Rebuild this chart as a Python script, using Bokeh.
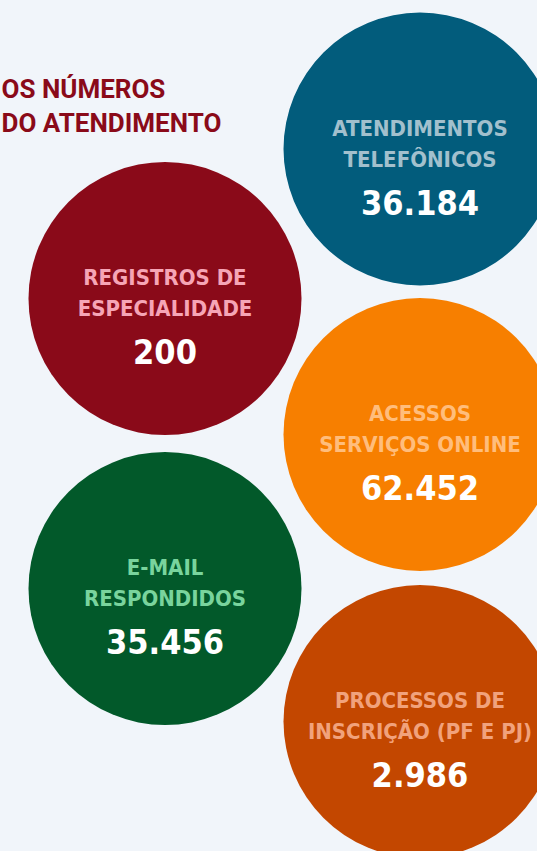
from bokeh.plotting import figure
from bokeh.models import Range1d, ColumnDataSource
from bokeh.core.properties import value
from bokeh.embed import file_html
from bokeh.resources import INLINE

# ---- data ----
labels_line1 = ["ATENDIMENTOS", "REGISTROS DE", "ACESSOS", "E-MAIL", "PROCESSOS DE"]
labels_line2 = ["TELEFÔNICOS", "ESPECIALIDADE", "SERVIÇOS ONLINE", "RESPONDIDOS", "INSCRIÇÃO (PF E PJ)"]
values = ["36.184", "200", "62.452", "35.456", "2.986"]
title_lines = ["OS NÚMEROS", "DO ATENDIMENTO"]

# ---- layout / style ----
cx = [419.5, 164.5, 419.5, 164.5, 419.5]
cy = [148.5, 298, 434, 588, 721]
R = 136.5
fill_colors = ["#025c7c", "#8a0a19", "#f77f00", "#02592a", "#c34700"]
label_colors = ["#a2c0cd", "#f6a5b6", "#ffbd7c", "#79d49d", "#f1a27c"]
BG = "#f1f5fa"
LABEL_FONT = "DejaVu Sans Condensed"

W, H = 537, 851
p = figure(width=W, height=H, x_range=Range1d(0, W), y_range=Range1d(H, 0),
           output_backend="svg", toolbar_location=None, min_border=0,
           background_fill_color=BG, border_fill_color=BG, outline_line_color=None)
p.axis.visible = False
p.grid.visible = False

src = ColumnDataSource(dict(
    x=cx, y=cy, fill=fill_colors, lc=label_colors,
    l1=labels_line1, l2=labels_line2, v=values,
    y1=[c - 21 for c in cy], y2=[c + 10 for c in cy], yv=[c + 53 for c in cy],
))

p.circle(x="x", y="y", radius=R, fill_color="fill", line_color=None, source=src)

for col, ycol in (("l1", "y1"), ("l2", "y2")):
    p.text(x="x", y=ycol, text=col, source=src, text_color="lc",
           text_font=value(LABEL_FONT), text_font_style="bold", text_font_size="22px",
           text_align="center", text_baseline="alphabetic")

p.text(x="x", y="yv", text="v", source=src, text_color="white",
       text_font=value(LABEL_FONT), text_font_style="bold", text_font_size="34px",
       text_align="center", text_baseline="alphabetic")

# title
p.text(x=[1, 1], y=[88, 122], text=title_lines, text_color="#8a0a19",
       text_font=value("Roboto"), text_font_style="bold", text_font_size="26px",
       text_align="left", text_baseline="alphabetic")

html = file_html(p, INLINE)
html = html.replace("<head>", "<head><style>html,body{margin:0;padding:0;overflow:hidden;background:%s;}</style>" % BG, 1)
open("out.html", "w").write(html)
